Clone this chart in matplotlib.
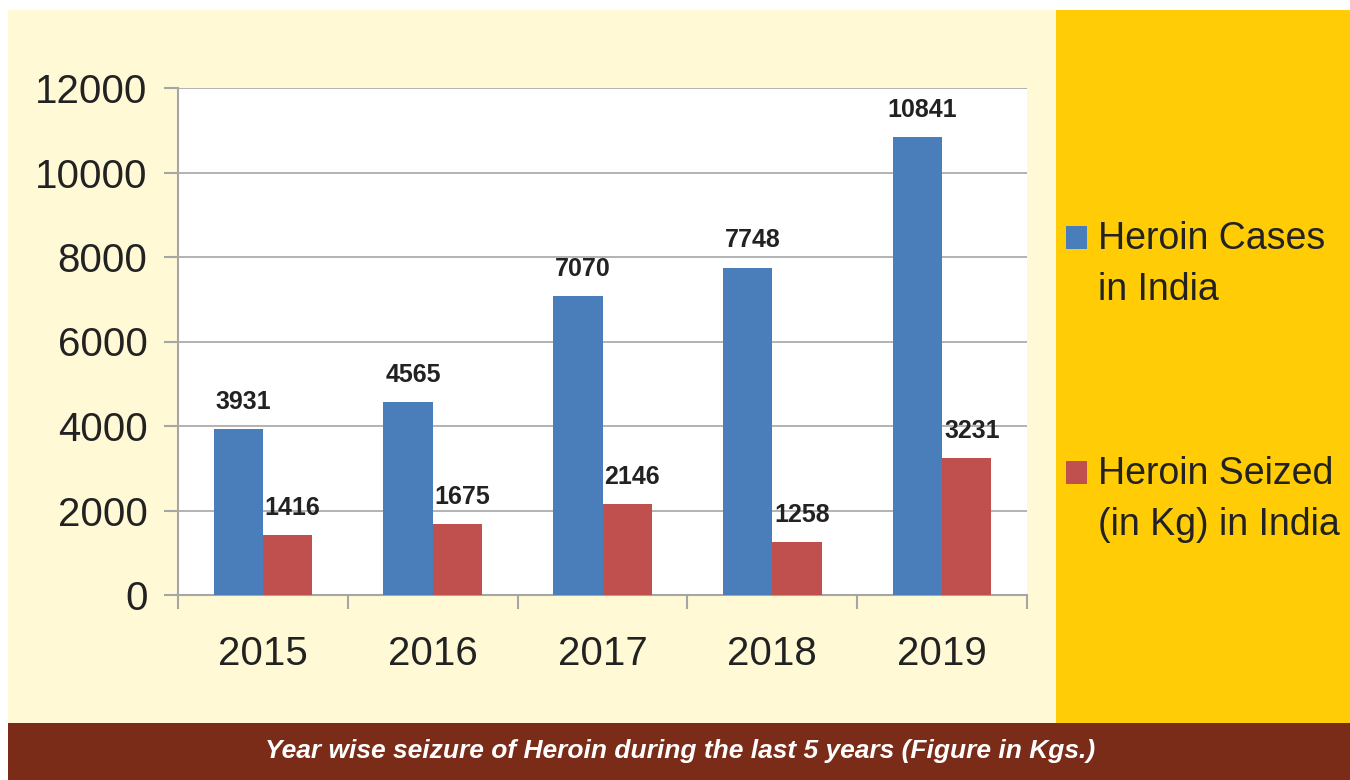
import matplotlib.pyplot as plt
import numpy as np
from matplotlib.patches import Rectangle

plt.rcParams['font.family'] = ['Liberation Sans', 'DejaVu Sans']

years = ["2015", "2016", "2017", "2018", "2019"]
cases = [3931, 4565, 7070, 7748, 10841]
seized = [1416, 1675, 2146, 1258, 3231]
series = ["Heroin Cases\nin India", "Heroin Seized\n(in Kg) in India"]
caption = "Year wise seizure of Heroin during the last 5 years (Figure in Kgs.)"

blue = "#4a7ebb"
red = "#c0504d"
W, H = 1350, 780


def fig_rect(fig, x0, y0, x1, y1, color, z=-1):
    # pixel box (from top-left) -> figure fraction
    fig.patches.append(Rectangle((x0 / W, 1 - y1 / H), (x1 - x0) / W, (y1 - y0) / H,
                                 transform=fig.transFigure, facecolor=color,
                                 edgecolor="none", zorder=z))


fig = plt.figure(figsize=(13.5, 7.8), dpi=100)
fig.patch.set_facecolor("white")
fig_rect(fig, 8, 10, 1056, 723, "#fffad5")
fig_rect(fig, 1056, 10, 1350, 723, "#ffcc05")
fig_rect(fig, 8, 723, 1350, 780, "#7a2c18")

ax = fig.add_axes([178 / W, 1 - 595 / H, (1027 - 178) / W, (595 - 88) / H])
ax.set_facecolor("white")

x = np.arange(len(years))
bw = 0.29
b1 = ax.bar(x - bw / 2, cases, bw, color=blue, zorder=3)
b2 = ax.bar(x + bw / 2, seized, bw, color=red, zorder=3)

for bars, vals in ((b1, cases), (b2, seized)):
    for r, v in zip(bars, vals):
        ax.text(r.get_x() + r.get_width() / 2 + 0.03, v + 480, str(v),
                ha="center", va="baseline", fontsize=18, fontweight="bold",
                color="#222222")

ax.set_xlim(-0.5, len(years) - 0.5)
ax.set_ylim(0, 12000)
ax.set_yticks(np.arange(0, 12001, 2000))
ax.yaxis.grid(True, color="#a6a6a6", linewidth=1.2, zorder=0)
ax.set_axisbelow(True)

ax.set_xticks(x)
ax.set_xticklabels(years)
ax.set_xticks(np.arange(-0.5, len(years)), minor=True)
ax.tick_params(axis="x", which="major", length=0, pad=29, labelsize=29,
               labelcolor="#222222")
ax.tick_params(axis="x", which="minor", length=10, width=1.5, color="#a6a6a6",
               direction="out")
ax.tick_params(axis="y", length=10, width=1.5, color="#a6a6a6", pad=12,
               labelsize=29, labelcolor="#222222")

for s in ("top", "right"):
    ax.spines[s].set_visible(False)
for s in ("left", "bottom"):
    ax.spines[s].set_color("#a6a6a6")
    ax.spines[s].set_linewidth(1.5)

# legend on the orange panel
leg_y = [226, 461]
for col, lab, yy in zip([blue, red], series, leg_y):
    fig_rect(fig, 1066, yy, 1087, yy + 23, col, z=1)
    fig.text(1098 / W, 1 - (yy - 5) / H, lab, ha="left", va="top",
             fontsize=27, color="#222222", linespacing=1.55)

fig.text(680 / W, 1 - 751 / H, caption, ha="center", va="center",
         fontsize=19, fontweight="bold", style="italic", color="white")

fig.savefig("out.png", dpi=100)
